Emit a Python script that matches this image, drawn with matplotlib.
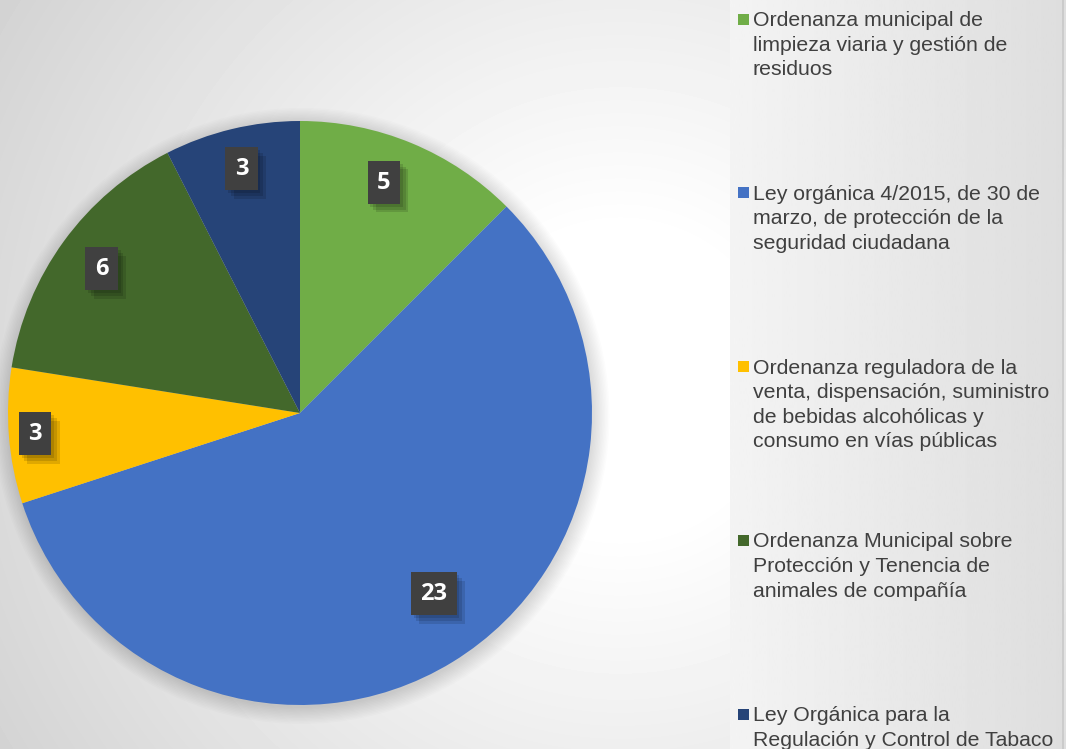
import numpy as np
import matplotlib
matplotlib.use("Agg")
import matplotlib.pyplot as plt
import matplotlib.patheffects as pe
from matplotlib.patches import Rectangle, Circle

# ---------------------------------------------------------------------------
# Datos
# ---------------------------------------------------------------------------

normativas = [
    "Ordenanza municipal de\nlimpieza viaria y gestión de\nresiduos",
    "Ley orgánica 4/2015, de 30 de\nmarzo, de protección de la\nseguridad ciudadana",
    "Ordenanza reguladora de la\nventa, dispensación, suministro\nde bebidas alcohólicas y\nconsumo en vías públicas",
    "Ordenanza Municipal sobre\nProtección y Tenencia de\nanimales de compañía",
    "Ley Orgánica para la\nRegulación y Control de Tabaco",
]
denuncias = [5, 23, 3, 6, 3]
colores = ["#70AD47", "#4472C4", "#FFC000", "#43682B", "#264478"]

# colocacion de las etiquetas: fraccion del radio y giro (grados) respecto al centro de la porcion
radios_etiqueta = [0.84, 0.77, 0.91, 0.84, 0.86]
giro_etiqueta = [2.5, 5, 0, 0, 0]

ANCHO, ALTO = 1066, 749

fig = plt.figure(figsize=(ANCHO / 100, ALTO / 100), dpi=100)

# ---------------------------------------------------------------------------
# Fondo con degradado radial + panel de la leyenda
# ---------------------------------------------------------------------------
fondo = fig.add_axes([0, 0, 1, 1])
yy, xx = np.mgrid[0:ALTO, 0:ANCHO]
dist = np.hypot(xx - 620, yy - 380)
gris = 1 - 0.18 * np.clip((dist - 150) / 600, 0, 1)
fondo.imshow(gris, cmap="gray", vmin=0, vmax=1,
             extent=(0, ANCHO, ALTO, 0), aspect="auto", interpolation="bilinear")

t = np.linspace(0, 1, 200)
panel = (0.955 - 0.085 * t)[None, :]
fondo.imshow(panel, cmap="gray", vmin=0, vmax=1,
             extent=(730, 1062, ALTO, 0), aspect="auto", interpolation="bilinear")
fondo.plot([1062.5, 1062.5], [0, ALTO], color="#c8c8c8", lw=1.2)

fondo.set_xlim(0, ANCHO)
fondo.set_ylim(ALTO, 0)
fondo.axis("off")

# leyenda dibujada a mano (cuadro en la primera linea de cada texto)
y_primera, paso = 19, 173.8
for i, (txt, c) in enumerate(zip(normativas, colores)):
    yc = y_primera + i * paso
    fondo.add_patch(Rectangle((738, yc - 5.5), 11, 11, color=c, lw=0))
    fondo.text(753, yc - 8, txt, ha="left", va="top",
               fontsize=15.3, family="Liberation Sans", color="#404040",
               linespacing=1.37)

# ---------------------------------------------------------------------------
# Tarta
# ---------------------------------------------------------------------------
R, cx, cy = 292, 300, 413
ax = fig.add_axes([(cx - R) / ANCHO, (ALTO - cy - R) / ALTO, 2 * R / ANCHO, 2 * R / ALTO])

# sombra difusa alrededor del circulo
for k in range(12):
    ax.add_patch(Circle((0.005, -0.01), 1 + 0.005 * k, color="black",
                        alpha=0.012, lw=0, clip_on=False, zorder=0))

wedges, _ = ax.pie(denuncias, colors=colores, startangle=90,
                   counterclock=False, radius=1,
                   wedgeprops=dict(linewidth=0, zorder=2))

sombra_caja = [pe.SimplePatchShadow(offset=(d, -d), shadow_rgbFace="black", alpha=0.12)
               for d in (2, 4, 6)] + [pe.Normal()]

for w, v, r, g in zip(wedges, denuncias, radios_etiqueta, giro_etiqueta):
    ang = np.deg2rad((w.theta1 + w.theta2) / 2 + g)
    x, y = r * np.cos(ang), r * np.sin(ang)
    etq = ax.text(x, y, str(v), ha="center", va="center", fontsize=17,
                  fontweight="bold", family="Open Sans", color="white", zorder=4,
                  bbox=dict(boxstyle="square,pad=0.4", fc="#404040", ec="none"))
    etq.get_bbox_patch().set_path_effects(sombra_caja)

ax.set_xlim(-1, 1)
ax.set_ylim(-1, 1)
ax.set_aspect("equal")
ax.axis("off")

fig.savefig("out.png", dpi=100)
